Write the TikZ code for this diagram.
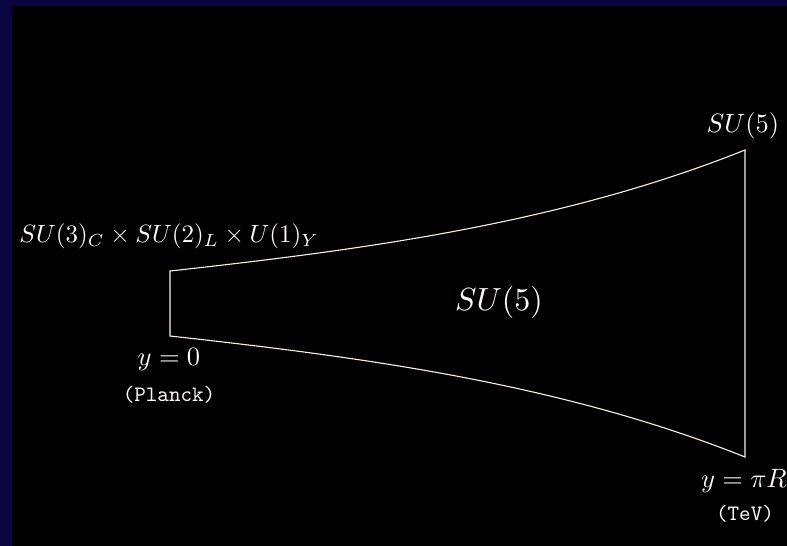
\documentclass[tikz,border=0pt]{standalone}
\definecolor{navyframe}{RGB}{10,5,64}
\definecolor{linecol}{RGB}{255,240,228}
\definecolor{textcol}{RGB}{255,250,242}
\begin{document}
\begin{tikzpicture}[x=1pt,y=-1pt,
  mathlabel/.style={text=textcol, inner sep=0pt, scale=2.65},
  ttlabel/.style={text=textcol, inner sep=0pt, scale=2.2, font=\ttfamily},
  brane/.style={draw=linecol, line width=1.1pt, line join=miter}]
  \useasboundingbox (0,0) rectangle (787,546);
  \fill[navyframe] (0,0) rectangle (787,546);
  \fill[black] (12,6) rectangle (787,546);
  % bulk shape
  \coordinate (tl) at (170,271);
  \coordinate (bl) at (170,336);
  \coordinate (tr) at (745,150);
  \coordinate (br) at (745,457);
  \draw[brane] (tl) .. controls (360,250) and (560,224) .. (tr)
    -- (br) .. controls (560,383) and (360,357) .. (bl) -- cycle;
  % labels
  \node[mathlabel, scale=0.945] (gsm) at (169,236) {$SU(3)_C\times SU(2)_L\times U(1)_Y$};
  \node[mathlabel] (su5r) at (743,126) {$SU(5)$};
  \node[text=textcol, inner sep=0pt, scale=3.2] (su5c) at (499,302) {$SU(5)$};
  \node[mathlabel] (y0) at (169,360) {$y=0$};
  \node[ttlabel] (planck) at (169,395) {(Planck)};
  \node[mathlabel] (ypr) at (744,481) {$y=\pi R$};
  \node[ttlabel] (tev) at (745,514) {(TeV)};
\end{tikzpicture}
\end{document}
